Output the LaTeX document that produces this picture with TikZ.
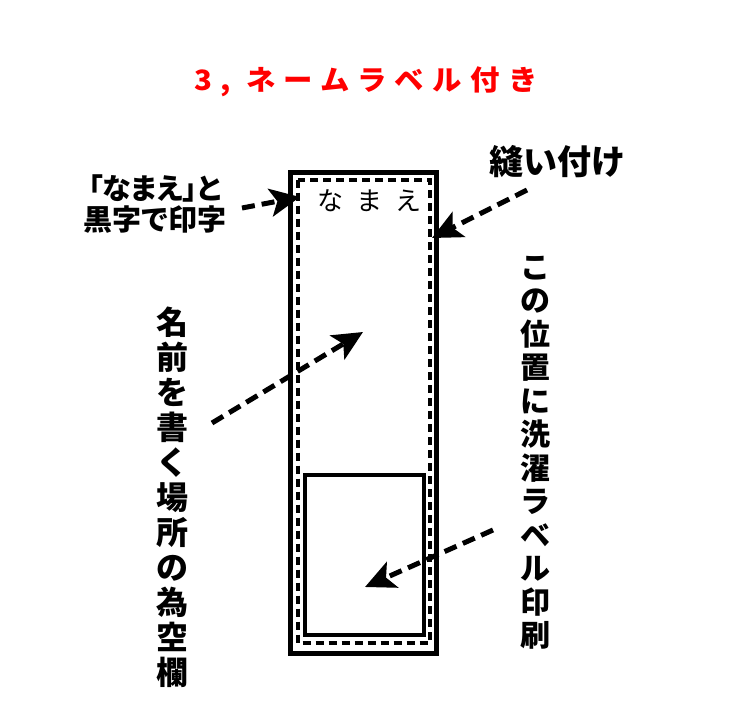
\documentclass[tikz,border=0pt]{standalone}
\usepackage{fontspec}
\setmainfont{Noto Sans CJK JP}
\newfontfamily\notefont[RawFeature=+palt]{Noto Sans CJK JP}
\usetikzlibrary{arrows.meta}

\begin{document}
\begin{tikzpicture}[x=1pt,y=-1pt,
  guide/.style={-{Stealth[length=30pt,width=28pt,inset=7pt]},line width=5pt,dash pattern=on 13pt off 7pt},
  note node/.style={font=\notefont\bfseries\fontsize{29}{31}\selectfont,align=center,inner sep=0pt},
  column node/.style={align=center,inner sep=0pt}]
  \useasboundingbox (0,0) rectangle (728,728);

  \node[text=red,font=\bfseries\fontsize{28}{30}\selectfont\addfontfeature{FakeStretch=1.05,LetterSpace=30}] (title) at (366,82) {3, ネームラベル付き};

  % the name label
  \draw[line width=5pt] (290.5,172.5) rectangle (436,653);
  \draw[line width=4pt,dash pattern=on 8pt off 5pt] (297.5,179.5) rectangle (429.5,642.5);
  \draw[line width=4pt] (305,475) rectangle (424,635);
  \node[font=\fontsize{26}{30}\selectfont\addfontfeature{LetterSpace=50}] (name) at (369,201) {なまえ};

  % notes
  \node[note node] (print) at (155,204) {「なまえ」と\\黒字で印字};
  \node[column node,font=\bfseries\fontsize{34}{36}\selectfont] (sewn) at (557,162) {縫い付け};
  \node[column node,font=\bfseries\fontsize{32}{35}\selectfont] (blank) at (172,497) {名\\前\\を\\書\\く\\場\\所\\の\\為\\空\\欄};
  \node[column node,font=\bfseries\fontsize{30}{33.5}\selectfont] (care) at (535,453) {こ\\の\\位\\置\\に\\洗\\濯\\ラ\\ベ\\ル\\印\\刷};

  \coordinate (print a) at (242,208);
  \coordinate (print b) at (300,197);
  \coordinate (sewn a) at (527,190);
  \coordinate (sewn b) at (432,238);
  \coordinate (blank a) at (212,423);
  \coordinate (blank b) at (363,332);
  \coordinate (care a) at (493,530);
  \coordinate (care b) at (365,587);

  \draw[guide] (print a) -- (print b);
  \draw[guide] (sewn a) -- (sewn b);
  \draw[guide] (blank a) -- (blank b);
  \draw[guide] (care a) -- (care b);
\end{tikzpicture}
\end{document}
